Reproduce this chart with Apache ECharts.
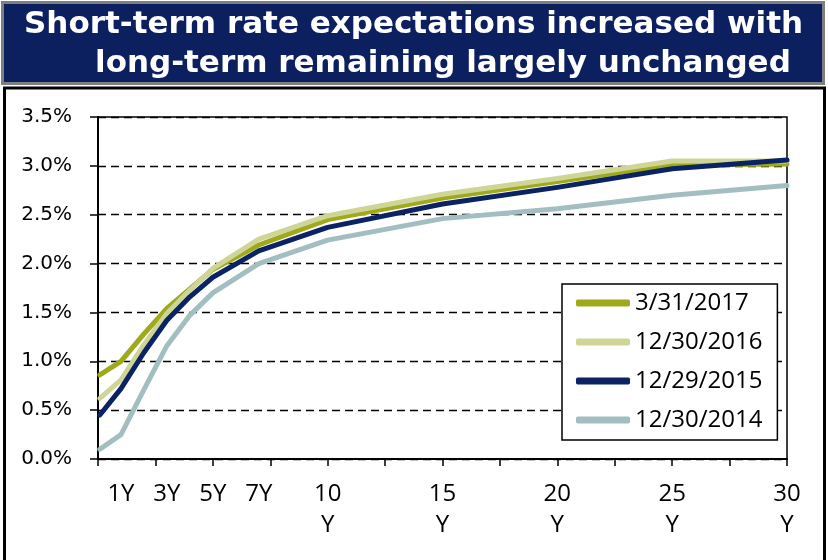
<!DOCTYPE html>
<html>
<head>
<meta charset="utf-8">
<script src="https://cdn.jsdelivr.net/npm/echarts@6/dist/echarts.min.js"></script>
<style>
html,body{margin:0;padding:0;background:#fff;}
#c{width:828px;height:560px;}
</style>
</head>
<body>
<div id="c"></div>
<script>
// ---- data ----
var titleLines = ['Short-term rate expectations increased with', 'long-term remaining largely unchanged'];
var tenors = [0.08, 1, 2, 3, 4, 5, 7, 10, 15, 20, 25, 30];
var seriesNames = ['3/31/2017', '12/30/2016', '12/29/2015', '12/30/2014'];
var s2017 = [0.86, 1.00, 1.28, 1.54, 1.74, 1.94, 2.19, 2.45, 2.67, 2.84, 3.01, 3.02];
var s2016 = [0.62, 0.81, 1.17, 1.49, 1.73, 1.95, 2.25, 2.49, 2.71, 2.87, 3.05, 3.05];
var s2015 = [0.45, 0.72, 1.09, 1.42, 1.66, 1.86, 2.13, 2.37, 2.61, 2.78, 2.97, 3.06];
var s2014 = [0.10, 0.25, 0.71, 1.16, 1.47, 1.70, 2.00, 2.24, 2.46, 2.56, 2.70, 2.80];
var xTickValues = [1, 3, 5, 7, 10, 15, 20, 25, 30];
var xTickLabels = ['1Y', '3Y', '5Y', '7Y', '10\nY', '15\nY', '20\nY', '25\nY', '30\nY'];
var yMin = 0, yMax = 3.5, yStep = 0.5;

// ---- styles ----
var colors = ['#9EAA1A', '#CED596', '#0B2265', '#A3BEC0'];
var allData = [s2017, s2016, s2015, s2014];

function pairs(vals) {
  return tenors.map(function (t, i) { return [t, vals[i]]; });
}

var chart = echarts.init(document.getElementById('c'), null, {renderer: 'canvas'});
var option = {
  animation: false,
  backgroundColor: '#fff',
  graphic: [
    {type: 'rect', z: 0, shape: {x: 2.5, y: 2.5, width: 821, height: 81},
     style: {fill: '#0C1F5E', stroke: '#7F7F7F', lineWidth: 3}},
    {type: 'rect', z: 0, shape: {x: 4.5, y: 88, width: 820, height: 490},
     style: {fill: 'none', stroke: '#000', lineWidth: 3}}
  ],
  title: [
    {text: titleLines[0], left: 24, top: 9, z: 10, padding: 0,
     textStyle: {color: '#fff', fontFamily: 'DejaVu Sans', fontWeight: 'bold', fontSize: 31, lineHeight: 31}},
    {text: titleLines[1], left: 95, top: 48, z: 10, padding: 0,
     textStyle: {color: '#fff', fontFamily: 'DejaVu Sans', fontWeight: 'bold', fontSize: 31, lineHeight: 31}}
  ],
  grid: {left: 98, right: 41, top: 117, bottom: 101, show: true, borderColor: '#000', borderWidth: 1.5, containLabel: false},
  legend: {
    left: 562, top: 284, orient: 'vertical',
    padding: [7, 15, 8, 14],
    itemGap: 15, itemWidth: 54, itemHeight: 7, itemTextGap: 4,
    backgroundColor: '#fff', borderColor: '#000', borderWidth: 1.5, borderRadius: 0,
    textStyle: {fontFamily: 'Open Sans', fontSize: 24, lineHeight: 24, color: '#000'},
    data: seriesNames.map(function (n, i) {
      return {name: n, icon: 'roundRect', itemStyle: {color: colors[i]}};
    })
  },
  xAxis: {
    type: 'value', min: 0, max: 30, interval: 2.5,
    axisLine: {show: true, lineStyle: {color: '#000', width: 2}},
    axisTick: {show: true, inside: false, length: 7, lineStyle: {color: '#000', width: 1.5}},
    splitLine: {show: false},
    axisLabel: {
      customValues: xTickValues,
      margin: 20,
      fontFamily: 'Open Sans', fontSize: 24, lineHeight: 31, color: '#000',
      formatter: function (v) {
        var i = xTickValues.indexOf(v);
        return i >= 0 ? xTickLabels[i] : '';
      }
    }
  },
  yAxis: {
    type: 'value', min: yMin, max: yMax, interval: yStep,
    axisLine: {show: true, lineStyle: {color: '#000', width: 2}},
    axisTick: {show: true, inside: false, length: 8, lineStyle: {color: '#000', width: 1.5}},
    splitLine: {show: true, lineStyle: {color: '#000', width: 1.3, type: [8, 5]}},
    axisLabel: {
      margin: 26, fontFamily: 'DejaVu Sans', fontSize: 20, color: '#000',
      formatter: function (v) { return v.toFixed(1) + '%'; }
    }
  },
  series: seriesNames.map(function (n, i) {
    return {
      name: n, type: 'line', data: pairs(allData[i]),
      showSymbol: false, symbol: 'none',
      lineStyle: {color: colors[i], width: 5, cap: 'round', join: 'round'},
      itemStyle: {color: colors[i]},
      z: 2 + i
    };
  })
};
chart.setOption(option);
</script>
</body>
</html>
